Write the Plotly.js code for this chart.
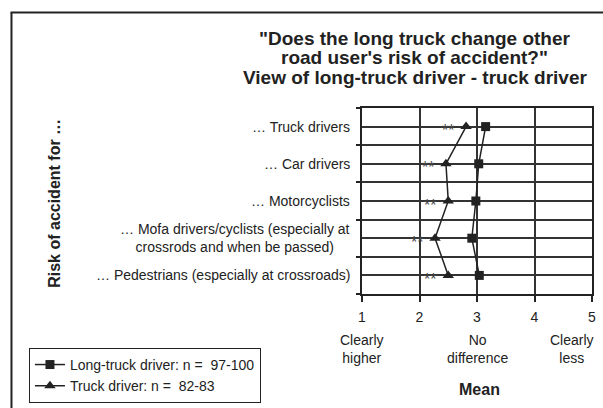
<!DOCTYPE html>
<html>
<head>
<meta charset="utf-8">
<script src="https://cdn.plot.ly/plotly-3.0.1.min.js"></script>
<style>
  html, body { margin: 0; padding: 0; background: #fff; }
  #chart { width: 603px; height: 408px; }
</style>
</head>
<body>
<div id="chart"></div>
<script>
// categories top to bottom
var categories = [
    "… Truck drivers",
    "… Car drivers",
    "… Motorcyclists",
    "… Mofa drivers/cyclists (especially at<br>crossrods and when be passed)",
    "… Pedestrians (especially at crossroads)"
];
var longTruck = [3.15, 3.03, 2.98, 2.91, 3.04];
var truck = [2.81, 2.46, 2.50, 2.27, 2.50];
var signif = ["**", "**", "**", "**", "**"];

var scaleVals = [1, 2, 3, 4, 5];
var scaleText = ["Clearly<br>higher", "", "No<br>difference", "", ""];
var seriesNames = ["Long-truck driver: n =\u00a0 97-100", "Truck driver: n =\u00a0 82-83"];
var titleLines = [
    "\"Does the long truck change other",
    "road user's risk of accident?\"",
    "View of long-truck driver - truck driver"
];

var ink = "#222";
var font = "Liberation Sans, Arial, sans-serif";

// numeric y: first category on top
var n = categories.length;
var yPos = categories.map((c, i) => n - i - 0.5);

var data = [];

data.push({
    x: longTruck,
    y: yPos,
    mode: "lines+markers",
    name: seriesNames[0],
    line: { color: ink, width: 1.5 },
    marker: { symbol: "square", size: 9, color: ink }
});

data.push({
    x: truck,
    y: yPos,
    mode: "lines+markers",
    name: seriesNames[1],
    line: { color: ink, width: 1.5 },
    marker: { symbol: "triangle-up", size: 10, color: ink }
});

var annotations = [];

// category labels (centered multi-line, right edge at the axis)
for (var i = 0; i < n; i++) {
    annotations.push({
        xref: "paper", x: 0, xanchor: "right", xshift: -10,
        yref: "y", y: yPos[i], yanchor: "middle",
        text: categories[i],
        align: "center",
        showarrow: false,
        font: { family: font, size: 14, color: ink }
    });
    // significance stars left of the truck-driver point
    annotations.push({
        xref: "x", x: truck[i], xanchor: "center", xshift: -18,
        yref: "y", y: yPos[i], yanchor: "middle", yshift: -4,
        text: signif[i],
        showarrow: false,
        font: { family: font, size: 16, color: "#444" }
    });
}

// scale meaning under the tick labels
for (var i = 0; i < scaleVals.length; i++) {
    if (!scaleText[i]) continue;
    annotations.push({
        xref: "x", x: scaleVals[i], xanchor: "center",
        yref: "paper", y: -0.195, yanchor: "top",
        text: scaleText[i],
        showarrow: false,
        font: { family: font, size: 14, color: ink }
    });
}
annotations.push({
    xref: "x", x: 4.65, xanchor: "center",
    yref: "paper", y: -0.195, yanchor: "top",
    text: "Clearly<br>less",
    showarrow: false,
    font: { family: font, size: 14, color: ink }
});

// axis titles
annotations.push({
    xref: "x", x: 3.05, xanchor: "center",
    yref: "paper", y: -0.516, yanchor: "middle",
    text: "<b>Mean</b>",
    showarrow: false,
    font: { family: font, size: 16, color: ink }
});
annotations.push({
    xref: "paper", x: -1.335, xanchor: "center",
    yref: "paper", y: 0.49, yanchor: "middle",
    text: "<b>Risk of accident for …</b>",
    textangle: -90,
    showarrow: false,
    font: { family: font, size: 16, color: ink }
});

// chart title, one annotation per line
var titleY = [1.372, 1.27, 1.163];
for (var i = 0; i < titleLines.length; i++) {
    annotations.push({
        xref: "paper", x: 0.23, xanchor: "center",
        yref: "paper", y: titleY[i], yanchor: "middle",
        text: "<b>" + titleLines[i] + "</b>",
        showarrow: false,
        font: { family: font, size: 19, color: ink }
    });
}

// outer frame (left and top edges of the original figure box)
var shapes = [
    { type: "line", xref: "paper", yref: "paper", x0: -1.524, x1: -1.524, y0: 1.513, y1: -0.7,
      line: { color: ink, width: 2 } },
    { type: "line", xref: "paper", yref: "paper", x0: -1.528, x1: 1.1, y0: 1.513, y1: 1.513,
      line: { color: ink, width: 2 } }
];

var layout = {
    width: 603,
    height: 408,
    margin: { l: 362, r: 11, t: 108, b: 114, autoexpand: false },
    paper_bgcolor: "#fff",
    plot_bgcolor: "#fff",
    font: { family: font, size: 14, color: ink },
    showlegend: true,
    legend: {
        x: -1.448, xanchor: "left",
        y: -0.29, yanchor: "top",
        bordercolor: ink, borderwidth: 1,
        bgcolor: "#fff",
        font: { family: font, size: 14, color: ink },
        tracegroupgap: 0,
        itemwidth: 30
    },
    xaxis: {
        range: [1, 5],
        tickvals: scaleVals,
        ticks: "outside", ticklen: 6, tickwidth: 2, tickcolor: ink,
        ticklabelstandoff: 3,
        showgrid: true, gridcolor: "#333", gridwidth: 2,
        showline: true, linecolor: ink, linewidth: 2, mirror: true,
        zeroline: false,
        fixedrange: true,
        tickfont: { family: font, size: 14, color: ink }
    },
    yaxis: {
        range: [0, n],
        tick0: 0, dtick: 1,
        showticklabels: false,
        ticks: "outside", ticklen: 4, tickwidth: 2, tickcolor: ink,
        showgrid: true, gridcolor: "#333", gridwidth: 2,
        minor: { dtick: 0.5, tick0: 0, showgrid: true, gridcolor: "#333", gridwidth: 2, ticks: "" },
        showline: true, linecolor: ink, linewidth: 2, mirror: true,
        zeroline: false,
        fixedrange: true
    },
    annotations: annotations,
    shapes: shapes
};

Plotly.newPlot("chart", data, layout, { displayModeBar: false, staticPlot: true });
</script>
</body>
</html>
